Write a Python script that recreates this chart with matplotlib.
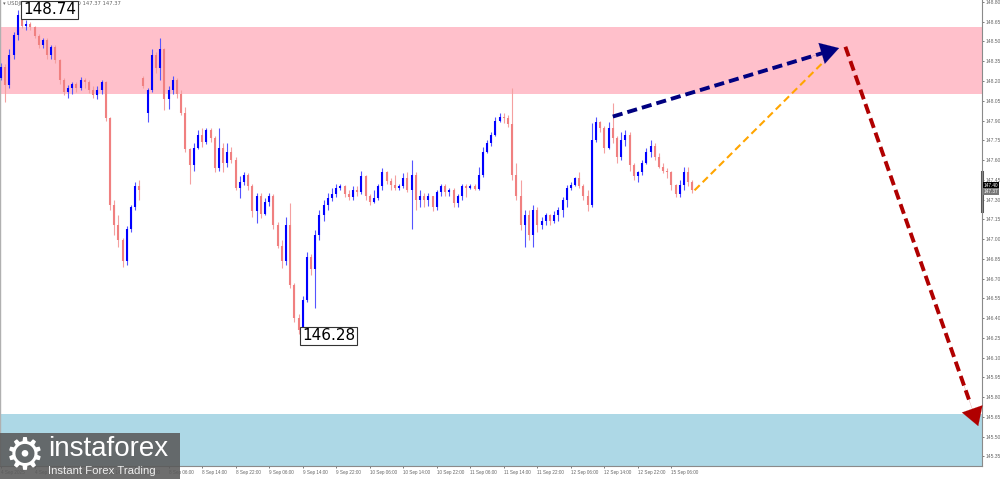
import numpy as np
import matplotlib
matplotlib.use("Agg")
import matplotlib.pyplot as plt
from matplotlib.patches import Rectangle
from matplotlib.transforms import blended_transform_factory

# --- USDJPY candles (oldest first) ---
opens = [148.22, 148.31, 148.17, 148.40, 148.55, 148.70, 148.62, 148.63, 148.61, 148.54,
         148.47, 148.51, 148.40, 148.46, 148.36, 148.21, 148.12, 148.15, 148.18, 148.15,
         148.21, 148.19, 148.13, 148.09, 148.13, 148.19, 147.92, 147.26, 147.11, 146.99,
         146.83, 147.08, 147.24, 147.40,
         148.22, 147.96, 148.13, 148.40, 148.30, 148.44, 148.06, 148.13, 148.21, 148.10,
         147.96, 147.68, 147.56, 147.69, 147.79, 147.74, 147.83, 147.77, 147.54, 147.69,
         147.58, 147.66, 147.60, 147.39, 147.43, 147.49, 147.40, 147.21, 147.33, 147.19,
         147.28, 147.33, 147.11, 146.95, 146.83, 147.11, 146.65, 146.40, 146.31, 146.54,
         146.86, 146.77, 147.03, 147.18, 147.26, 147.31, 147.34, 147.39, 147.40, 147.34,
         147.32, 147.37, 147.36, 147.48, 147.33, 147.28, 147.31, 147.40, 147.51, 147.44,
         147.41, 147.39, 147.40, 147.46, 147.37, 147.49, 147.30, 147.33, 147.30, 147.33,
         147.24, 147.36, 147.40, 147.36, 147.37, 147.27, 147.33, 147.40, 147.39, 147.40,
         147.38, 147.49, 147.66, 147.73, 147.79, 147.90, 147.93, 147.92, 147.87, 147.49,
         147.33, 147.11, 147.18, 147.03, 147.22, 147.11, 147.14, 147.18, 147.14, 147.18,
         147.22, 147.30, 147.39, 147.41, 147.46, 147.40, 147.33, 147.26, 147.75, 147.89,
         147.84, 147.69, 147.84, 147.77, 147.62, 147.75, 147.79, 147.56, 147.48, 147.51,
         147.58, 147.66, 147.71, 147.62, 147.55, 147.52, 147.51, 147.41, 147.34, 147.41,
         147.51, 147.43]
highs = [148.34, 148.33, 148.44, 148.57, 148.74, 148.72, 148.66, 148.65, 148.62, 148.56,
         148.53, 148.53, 148.47, 148.47, 148.37, 148.22, 148.17, 148.19, 148.19, 148.23,
         148.22, 148.21, 148.16, 148.16, 148.21, 148.20, 147.93, 147.30, 147.18, 147.01,
         147.10, 147.26, 147.43, 147.45,
         148.24, 148.15, 148.44, 148.42, 148.53, 148.45, 148.16, 148.24, 148.22, 148.13,
         148.00, 147.69, 147.73, 147.83, 147.84, 147.84, 147.84, 147.78, 147.84, 147.73,
         147.73, 147.70, 147.62, 147.48, 147.51, 147.50, 147.42, 147.35, 147.35, 147.31,
         147.35, 147.34, 147.13, 146.99, 147.17, 147.27, 146.67, 146.43, 146.57, 146.90,
         146.89, 147.07, 147.22, 147.30, 147.35, 147.39, 147.42, 147.42, 147.41, 147.37,
         147.40, 147.40, 147.52, 147.49, 147.34, 147.37, 147.42, 147.54, 147.52, 147.46,
         147.49, 147.42, 147.50, 147.51, 147.60, 147.51, 147.37, 147.35, 147.35, 147.33,
         147.37, 147.42, 147.42, 147.39, 147.39, 147.34, 147.42, 147.42, 147.42, 147.42,
         147.55, 147.70, 147.75, 147.81, 147.93, 147.96, 147.96, 147.94, 148.15, 147.58,
         147.45, 147.22, 147.22, 147.26, 147.24, 147.17, 147.20, 147.19, 147.21, 147.24,
         147.32, 147.41, 147.43, 147.47, 147.51, 147.42, 147.37, 147.88, 147.93, 147.90,
         147.86, 147.89, 148.03, 147.78, 147.81, 147.83, 147.81, 147.58, 147.52, 147.60,
         147.69, 147.75, 147.73, 147.65, 147.58, 147.54, 147.52, 147.42, 147.45, 147.55,
         147.55, 147.45]
lows = [148.21, 148.04, 148.15, 148.37, 148.51, 148.60, 148.59, 148.59, 148.53, 148.45,
        148.45, 148.37, 148.37, 148.34, 148.18, 148.09, 148.07, 148.10, 148.12, 148.13,
        148.15, 148.11, 148.07, 148.06, 148.10, 147.90, 147.22, 147.03, 146.94, 146.79,
        146.80, 147.05, 147.22, 147.30,
        148.15, 147.89, 148.12, 148.26, 148.21, 147.98, 147.99, 148.10, 148.07, 147.94,
        147.66, 147.42, 147.52, 147.68, 147.70, 147.72, 147.74, 147.51, 147.52, 147.51,
        147.55, 147.58, 147.37, 147.31, 147.41, 147.37, 147.17, 147.12, 147.16, 147.18,
        147.25, 147.08, 146.93, 146.78, 146.80, 146.63, 146.37, 146.28, 146.29, 146.52,
        146.73, 146.48, 146.99, 147.14, 147.22, 147.29, 147.32, 147.37, 147.32, 147.30,
        147.30, 147.33, 147.34, 147.30, 147.26, 147.27, 147.30, 147.37, 147.42, 147.37,
        147.37, 147.37, 147.39, 147.36, 147.08, 147.22, 147.24, 147.24, 147.25, 147.21,
        147.22, 147.33, 147.33, 147.33, 147.24, 147.24, 147.30, 147.32, 147.38, 147.37,
        147.37, 147.47, 147.65, 147.71, 147.78, 147.89, 147.88, 147.85, 147.45, 147.30,
        147.07, 146.94, 146.99, 146.94, 147.05, 147.08, 147.11, 147.11, 147.12, 147.14,
        147.17, 147.24, 147.37, 147.40, 147.39, 147.30, 147.21, 147.24, 147.74, 147.81,
        147.65, 147.68, 147.73, 147.58, 147.60, 147.71, 147.52, 147.45, 147.43, 147.49,
        147.57, 147.62, 147.60, 147.54, 147.50, 147.46, 147.37, 147.32, 147.32, 147.37,
        147.40, 147.35]
closes = [148.31, 148.17, 148.40, 148.55, 148.70, 148.62, 148.63, 148.61, 148.54, 148.47,
          148.51, 148.40, 148.46, 148.36, 148.21, 148.12, 148.15, 148.18, 148.15, 148.21,
          148.19, 148.13, 148.09, 148.13, 148.19, 147.92, 147.26, 147.11, 146.99, 146.83,
          147.08, 147.24, 147.40, 147.37,
          148.16, 148.13, 148.40, 148.30, 148.44, 148.06, 148.13, 148.21, 148.10, 147.96,
          147.68, 147.56, 147.69, 147.79, 147.74, 147.83, 147.77, 147.54, 147.69, 147.58,
          147.66, 147.60, 147.39, 147.43, 147.49, 147.40, 147.21, 147.33, 147.19, 147.28,
          147.33, 147.11, 146.95, 146.83, 147.11, 146.65, 146.40, 146.31, 146.54, 146.86,
          146.77, 147.03, 147.18, 147.26, 147.31, 147.34, 147.39, 147.40, 147.34, 147.32,
          147.37, 147.36, 147.48, 147.33, 147.28, 147.31, 147.40, 147.51, 147.44, 147.41,
          147.39, 147.40, 147.46, 147.37, 147.49, 147.30, 147.33, 147.30, 147.33, 147.24,
          147.36, 147.40, 147.36, 147.37, 147.27, 147.33, 147.40, 147.39, 147.40, 147.38,
          147.49, 147.66, 147.73, 147.79, 147.90, 147.93, 147.92, 147.87, 147.49, 147.33,
          147.11, 147.18, 147.03, 147.22, 147.11, 147.14, 147.18, 147.14, 147.18, 147.22,
          147.30, 147.39, 147.41, 147.46, 147.40, 147.33, 147.26, 147.75, 147.89, 147.84,
          147.69, 147.84, 147.77, 147.62, 147.75, 147.79, 147.56, 147.48, 147.51, 147.58,
          147.66, 147.71, 147.62, 147.55, 147.52, 147.51, 147.41, 147.34, 147.41, 147.51,
          147.43, 147.37]

# time axis labels (every 8th bar)
tick_idx = list(range(0, 161, 8))
tick_text = ["4 Sep 2025", "4 Sep 22:00", "5 Sep 06:00", "5 Sep 14:00", "5 Sep 22:00",
             "8 Sep 06:00", "8 Sep 14:00", "8 Sep 22:00", "9 Sep 06:00", "9 Sep 14:00",
             "9 Sep 22:00", "10 Sep 06:00", "10 Sep 14:00", "10 Sep 22:00", "11 Sep 06:00",
             "11 Sep 14:00", "11 Sep 22:00", "12 Sep 06:00", "12 Sep 14:00", "12 Sep 22:00",
             "15 Sep 06:00"]
price_ticks = [148.80, 148.65, 148.50, 148.35, 148.20, 148.05, 147.90, 147.75, 147.60,
               147.45, 147.30, 147.15, 147.00, 146.85, 146.70, 146.55, 146.40, 146.25,
               146.10, 145.95, 145.80, 145.65, 145.50, 145.35]

# zones and forecast paths (bar index, price)
sell_zone = (148.10, 148.61)
buy_zone = (145.20, 145.67)
up_x, up_y = [146, 200], [147.93, 148.45]
alt_x, alt_y = [165.5, 197.4], [147.37, 148.38]
down_x, down_y = [201.5, 233.2], [148.46, 145.58]

o = np.array(opens); h = np.array(highs); l = np.array(lows); c = np.array(closes)
x = np.arange(len(o))

fig = plt.figure(figsize=(10, 4.79), dpi=100)
ax = fig.add_axes([0, 13 / 479, 0.982, 466 / 479])
ax.set_xlim(-0.24, 234.1)
ax.set_ylim(145.277, 148.815)

ax.axhspan(*sell_zone, color="#FFC0CB", lw=0, zorder=0)
ax.axhspan(*buy_zone, color="#ADD8E6", lw=0, zorder=0)

bull = c >= o
body_col = np.where(bull, "#0000FF", "#F08080")
wick_col = np.where(bull, "#5555FF", "#F4A0A0")
ax.vlines(x, l, h, colors=wick_col, lw=0.8, zorder=2)
lo_b = np.minimum(o, c); hi_b = np.maximum(o, c)
hi_b = np.maximum(hi_b, lo_b + 0.006)
ax.vlines(x, lo_b, hi_b, colors=body_col, lw=1.5, zorder=3)

# extreme labels
i_hi = int(np.argmax(h)); i_lo = int(np.argmin(l))
box = dict(boxstyle="square,pad=0.12", fc="white", ec="#333333", lw=0.8)
ax.annotate(f"{h[i_hi]:.2f}", (i_hi, h[i_hi]), xytext=(4, 0), textcoords="offset points",
            fontsize=11, va="center", ha="left", bbox=box, zorder=6)
ax.annotate(f"{l[i_lo]:.2f}", (i_lo, l[i_lo]), xytext=(2.5, -1.5), textcoords="offset points",
            fontsize=11, va="center", ha="left", bbox=box, zorder=6)


def dashed_arrow(xs, ys, color, lw, dashes, head=True, hl=1.0, hw=0.6, ms=13):
    if head:
        f = 0.93
        xe = xs[0] + f * (xs[1] - xs[0]); ye = ys[0] + f * (ys[1] - ys[0])
        ax.plot([xs[0], xe], [ys[0], ye], color=color, lw=lw, dashes=dashes, zorder=5,
                solid_capstyle="butt", dash_capstyle="butt")
        xb = xs[0] + 0.88 * (xs[1] - xs[0]); yb = ys[0] + 0.88 * (ys[1] - ys[0])
        ax.annotate("", xy=(xs[1], ys[1]), xytext=(xb, yb),
                    arrowprops=dict(arrowstyle=f"-|>,head_length={hl},head_width={hw}",
                                    color=color, lw=0.1, shrinkA=0, shrinkB=0,
                                    mutation_scale=ms), zorder=5)
    else:
        ax.plot(xs, ys, color=color, lw=lw, dashes=dashes, zorder=5)


dashed_arrow(alt_x, alt_y, "#FFA500", 1.5, (3.5, 2.0), head=False)
dashed_arrow(up_x, up_y, "#000080", 2.8, (2.6, 1.3))
dashed_arrow(down_x, down_y, "#B00000", 2.8, (2.6, 1.3))

# axes styling (MT4 look)
for s in ("top", "left"):
    ax.spines[s].set_visible(False)
ax.spines["right"].set_color("#8a8a8a"); ax.spines["right"].set_linewidth(0.8)
ax.spines["bottom"].set_color("#8a8a8a"); ax.spines["bottom"].set_linewidth(0.8)
ax.axvline(-0.2, color="#b0b0b0", lw=1.0)
ax.yaxis.tick_right()
ax.set_yticks(price_ticks)
ax.set_yticklabels([f"{p:.2f}" for p in price_ticks], family="Liberation Sans")
ax.tick_params(axis="y", labelsize=3.6, colors="#666666", length=1.5, pad=1.0, width=0.6)
ax.set_xticks(tick_idx)
ax.set_xticklabels(tick_text, ha="left", family="Liberation Sans")
ax.tick_params(axis="x", labelsize=3.3, colors="#666666", length=1.5, pad=1.5, width=0.6)

ax.text(0.003, 0.997, "\u25be USDJPY,M30  147.40 147.40 147.37 147.37", transform=ax.transAxes,
        fontsize=3.8, color="#666666", va="top", ha="left")

# current price markers on the price scale
bt = blended_transform_factory(ax.transAxes, ax.transData)
ax.plot([1.0, 1.0], [147.21, 147.51], transform=bt, color="#555555", lw=2.2, clip_on=False)
ax.text(1.002, 147.41, "147.40", transform=bt, fontsize=3.4, color="white", va="center",
        ha="left", family="Liberation Sans",
        bbox=dict(boxstyle="square,pad=0.15", fc="black", ec="none"), clip_on=False)
ax.text(1.002, 147.36, "147.37", transform=bt, fontsize=3.4, color="white", va="center",
        ha="left", family="Liberation Sans",
        bbox=dict(boxstyle="square,pad=0.15", fc="#777777", ec="none"), clip_on=False)

# watermark logo
fig.patches.append(Rectangle((0, 0), 0.18, 46 / 479, transform=fig.transFigure,
                             fc="#5a5a5a", alpha=0.88, ec="none", zorder=10))
fig.text(0.025, 0.048, "\u2699", fontsize=32, color="white", ha="center", va="center",
         zorder=11)
fig.text(0.048, 0.048, "instaforex", fontsize=20, color="white", family="Liberation Sans",
         ha="left", va="baseline", zorder=11)
fig.text(0.048, 0.010, "Instant Forex Trading", fontsize=8.2, color="#eeeeee",
         family="Liberation Sans", ha="left", va="baseline", zorder=11)

fig.savefig("out.png", dpi=100)
